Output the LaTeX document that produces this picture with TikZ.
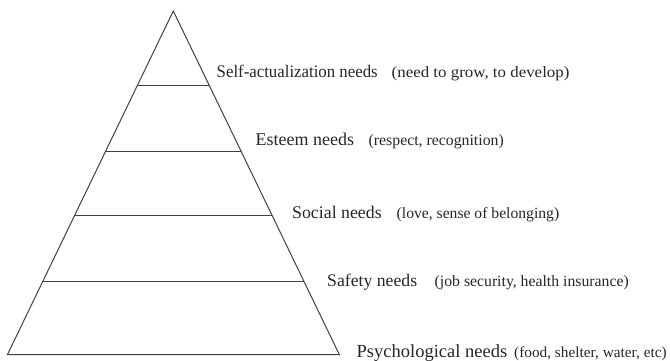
\documentclass[tikz,border=0pt]{standalone}
\usepackage{fontspec}
\setmainfont{Liberation Serif}
\usetikzlibrary{calc}
\begin{document}
\begin{tikzpicture}[x=1pt,y=-1pt,
  edge/.style={draw=black!75, line width=1pt},
  need/.style={anchor=base west, inner sep=0pt, text=black!85, font=\fontsize{#1pt}{#1pt}\selectfont},
  note/.style={anchor=base west, inner sep=0pt, text=black!85, font=\fontsize{#1pt}{#1pt}\selectfont}]
  \useasboundingbox (0,0) rectangle (670,361);
  % pyramid outline
  \coordinate (apex) at (173.3,11);
  \coordinate (bl) at (7.5,354.5);
  \coordinate (br) at (339.3,354.5);
  \draw[edge, line join=miter] (apex) -- (bl) -- (br) -- cycle;
  % level dividers, placed on the sides
  \foreach \n/\y in {1/85.5,2/152,3/215,4/281}{
    \pgfmathsetmacro{\t}{(\y-11)/343.5}
    \coordinate (l\n) at ($(apex)!\t!(bl)$);
    \coordinate (r\n) at ($(apex)!\t!(br)$);
    \draw[edge] (l\n) -- (r\n);
  }
  % labels
  \node[need=17.6] (n1) at (216.5,77.5) {\scalebox{0.955}[1]{Self-actualization needs}};
  \node[note=15.8] (p1) at (391.5,77.5) {\scalebox{1.07}[1]{(need to grow, to develop)}};
  \node[need=18] (n2) at (255.5,145) {Esteem needs};
  \node[note=15.8] (p2) at (368.5,145) {(respect, recognition)};
  \node[need=17.8] (n3) at (292,218) {Social needs};
  \node[note=15.65] (p3) at (396.5,218) {(love, sense of belonging)};
  \node[need=17.7] (n4) at (327,286) {Safety needs};
  \node[note=15.75] (p4) at (434.5,286) {(job security, health insurance)};
  \node[need=18.5] (n5) at (356.5,357) {Psychological needs};
  \node[note=15.3] (p5) at (514,357) {(food, shelter, water, etc)};
\end{tikzpicture}
\end{document}
